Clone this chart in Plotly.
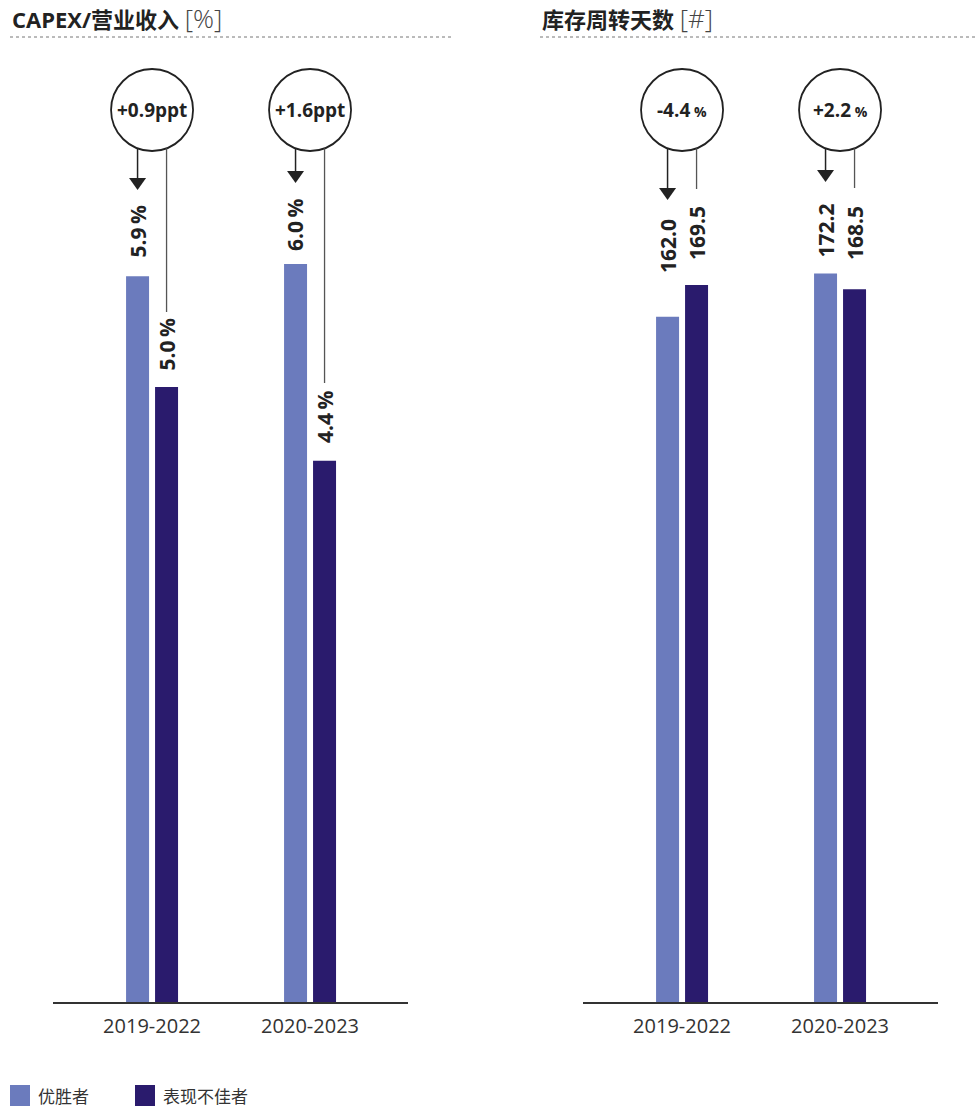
import plotly.graph_objects as go

# ---- data -------------------------------------------------------------
periods = ["2019-2022", "2020-2023"]
series_names = ["优胜者", "表现不佳者"]
capex_winners = [5.9, 6.0]          # CAPEX / revenue, %
capex_laggards = [5.0, 4.4]
inventory_winners = [162.0, 172.2]  # inventory turnover days
inventory_laggards = [169.5, 168.5]
panel_titles = ["CAPEX/营业收入", "库存周转天数"]
panel_units = ["[%]", "[#]"]

# ---- style ------------------------------------------------------------
LIGHT = "#6b7bbd"
DARK = "#2a1b6d"
INK = "#222222"
GREY = "#555555"
FONT = "Open Sans, Noto Sans CJK SC, sans-serif"

W, H = 976, 1109


def px(x):
    return x / W


def py(y):
    return 1 - y / H


# pixel frame of the two panels
BASE_Y = 1002          # zero line
TOP_Y = 40             # top of plotting area
PANEL_X = [(53, 408), (583, 938)]
XRANGE = [-0.627, 1.62]
PPU = [123.0, 4.23]    # pixels per unit on each value axis
BAR_OFF = 14.5         # half distance between the two bars of a group

fig = go.Figure()

panels = [
    (capex_winners, capex_laggards, "x", "y"),
    (inventory_winners, inventory_laggards, "x2", "y2"),
]
for k, (win, lag, xa, ya) in enumerate(panels):
    fig.add_trace(go.Bar(x=periods, y=win, name=series_names[0], marker_color=LIGHT,
                         marker_line_width=0, xaxis=xa, yaxis=ya, showlegend=False))
    fig.add_trace(go.Bar(x=periods, y=lag, name=series_names[1], marker_color=DARK,
                         marker_line_width=0, xaxis=xa, yaxis=ya, showlegend=False))

ydom = [py(BASE_Y), py(TOP_Y)]
axis_common = dict(showgrid=False, zeroline=False)
xaxis_common = dict(range=XRANGE, showline=True, linecolor="#333", linewidth=1.5, ticks="",
                    ticklabelstandoff=5, tickfont=dict(size=20, color="#333"), **axis_common)
fig.update_layout(
    width=W, height=H,
    margin=dict(l=0, r=0, t=0, b=0),
    paper_bgcolor="white", plot_bgcolor="white",
    barmode="group", bargap=0.633, bargroupgap=0.207,
    font=dict(family=FONT, color=INK),
    xaxis=dict(domain=[px(PANEL_X[0][0]), px(PANEL_X[0][1])], anchor="y", **xaxis_common),
    xaxis2=dict(domain=[px(PANEL_X[1][0]), px(PANEL_X[1][1])], anchor="y2", **xaxis_common),
    yaxis=dict(domain=ydom, range=[0, (BASE_Y - TOP_Y) / PPU[0]], anchor="x",
               visible=False, **axis_common),
    yaxis2=dict(domain=ydom, range=[0, (BASE_Y - TOP_Y) / PPU[1]], anchor="x2",
                visible=False, **axis_common),
)

shapes = []
annotations = []

# ---- panel headings with dotted rules ----------------------------------
title_x = [10, 540]
rule_x = [(10, 453), (540, 976)]
for k in range(2):
    annotations.append(dict(
        x=px(title_x[k]), y=py(18), xref="paper", yref="paper",
        xanchor="left", yanchor="middle", showarrow=False,
        text=f"<b>{panel_titles[k]}</b> <span style='font-size:26px;font-weight:300;color:#444'>{panel_units[k]}</span>",
        font=dict(size=22, color=INK, family=FONT),
    ))
    shapes.append(dict(type="line", xref="paper", yref="paper",
                       x0=px(rule_x[k][0]), x1=px(rule_x[k][1]), y0=py(37), y1=py(37),
                       line=dict(color="#777", width=1, dash="dot")))

# ---- change bubbles, pointers and value labels ---------------------------
capex_delta = [f"+{w - l:.1f}ppt" for w, l in zip(capex_winners, capex_laggards)]
inv_delta = []
for w, l in zip(inventory_winners, inventory_laggards):
    d = (w / l - 1) * 100
    sign = "+" if d >= 0 else "-"
    inv_delta.append(f"{sign}{abs(d):.1f}<span style='font-size:14px'> %</span>")

capex_lbl_w = [f"{v:.1f}\u2009%" for v in capex_winners]
capex_lbl_l = [f"{v:.1f}\u2009%" for v in capex_laggards]
inv_lbl_w = [f"{v:.1f}" for v in inventory_winners]
inv_lbl_l = [f"{v:.1f}" for v in inventory_laggards]

# vertical placement (pixels) of the pointer ends and label centres
arrow_tip = [[190, 183], [200, 182]]
line_end = [[312, 383], [189, 188]]
lbl_mid_w = [[232, 225.5], [246.5, 231]]
lbl_mid_l = [[345, 417.5], [233.5, 233.5]]

CIRCLE_Y, R = 110, 41
line_top = CIRCLE_Y + (R ** 2 - BAR_OFF ** 2) ** 0.5

deltas = [capex_delta, inv_delta]
lbl_w = [capex_lbl_w, inv_lbl_w]
lbl_l = [capex_lbl_l, inv_lbl_l]
delta_size = [19, 19]

for k in range(2):
    x0, x1 = PANEL_X[k]
    span = (x1 - x0) / (XRANGE[1] - XRANGE[0])
    for i in range(len(periods)):
        cx = x0 + (i - XRANGE[0]) * span
        xl, xd = cx - BAR_OFF, cx + BAR_OFF

        # bubble
        shapes.append(dict(type="circle", xref="paper", yref="paper",
                           x0=px(cx - R), x1=px(cx + R),
                           y0=py(CIRCLE_Y + R), y1=py(CIRCLE_Y - R),
                           line=dict(color=INK, width=1.8), fillcolor="white", layer="above"))
        annotations.append(dict(x=px(cx), y=py(CIRCLE_Y), xref="paper", yref="paper",
                                xanchor="center", yanchor="middle", showarrow=False,
                                text=f"<b>{deltas[k][i]}</b>",
                                font=dict(size=delta_size[k], color=INK, family=FONT)))

        # arrow down to the winners' label
        tip = arrow_tip[k][i]
        shapes.append(dict(type="line", xref="paper", yref="paper",
                           x0=px(xl), x1=px(xl), y0=py(line_top), y1=py(tip - 8),
                           line=dict(color=INK, width=1.5)))
        shapes.append(dict(type="path", xref="paper", yref="paper",
                           path=(f"M {px(xl - 8.5)},{py(tip - 12)} L {px(xl + 8.5)},{py(tip - 12)} "
                                 f"L {px(xl)},{py(tip)} Z"),
                           fillcolor=INK, line=dict(width=0)))

        # plain leader to the laggards' label
        shapes.append(dict(type="line", xref="paper", yref="paper",
                           x0=px(xd), x1=px(xd), y0=py(line_top), y1=py(line_end[k][i]),
                           line=dict(color=GREY, width=1.3)))

        # rotated value labels
        annotations.append(dict(x=px(xl), y=py(lbl_mid_w[k][i]), xref="paper", yref="paper",
                                xanchor="center", yanchor="middle", showarrow=False,
                                textangle=-90, text=f"<b>{lbl_w[k][i]}</b>",
                                font=dict(size=21, color=INK, family=FONT)))
        annotations.append(dict(x=px(xd), y=py(lbl_mid_l[k][i]), xref="paper", yref="paper",
                                xanchor="center", yanchor="middle", showarrow=False,
                                textangle=-90, text=f"<b>{lbl_l[k][i]}</b>",
                                font=dict(size=21, color=INK, family=FONT)))

# ---- legend ------------------------------------------------------------
legend_box_x = [10, 135]
for j, (name, col) in enumerate(zip(series_names, [LIGHT, DARK])):
    bx = legend_box_x[j]
    shapes.append(dict(type="rect", xref="paper", yref="paper",
                       x0=px(bx), x1=px(bx + 20), y0=py(1106), y1=py(1085),
                       fillcolor=col, line=dict(width=0)))
    annotations.append(dict(x=px(bx + 26), y=py(1096), xref="paper", yref="paper",
                            xanchor="left", yanchor="middle", showarrow=False,
                            text=name, font=dict(size=17, color="#333", family=FONT)))

fig.update_layout(shapes=shapes, annotations=annotations)
fig.write_html("out.html")
